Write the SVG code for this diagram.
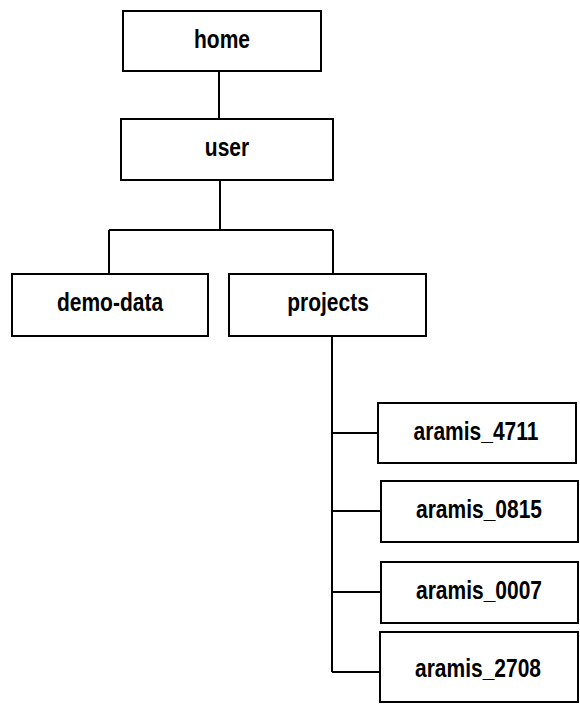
<svg xmlns="http://www.w3.org/2000/svg" width="580" height="704" viewBox="0 0 580 704">
<style>
.box{fill:#fff;stroke:#000;stroke-width:2}
.lbl{font-family:"Liberation Sans",Arial,sans-serif;font-weight:bold;font-size:25px;fill:#000;text-anchor:middle}
.con{fill:none;stroke:#000;stroke-width:2}
</style>
<rect width="580" height="704" fill="#fff"/>
<g id="connectors">
<path class="con" d="M219 71V119"/>
<path class="con" d="M220 180V230M109 230H333M109 230V274M333 230V274"/>
<path class="con" d="M332 336V672"/>
<path class="con" d="M332 433H378M332 511H381M332 592H381M332 672H380" stroke-width="1.5"/>
</g>
<g id="home"><rect class="box" x="123" y="11" width="198" height="60"/><text class="lbl" transform="translate(222 47.5) scale(0.84 1)">home</text></g>
<g id="user"><rect class="box" x="121" y="119" width="212" height="61"/><text class="lbl" transform="translate(227 155.5) scale(0.84 1)">user</text></g>
<g id="demo-data"><rect class="box" x="12" y="274" width="196" height="62"/><text class="lbl" transform="translate(110 310.5) scale(0.84 1)">demo-data</text></g>
<g id="projects"><rect class="box" x="229" y="274" width="197" height="62"/><text class="lbl" transform="translate(328 310.5) scale(0.84 1)">projects</text></g>
<g id="aramis_4711"><rect class="box" x="378" y="403" width="198" height="60"/><text class="lbl" transform="translate(476 439.5) scale(0.84 1)">aramis_4711</text></g>
<g id="aramis_0815"><rect class="box" x="381" y="481" width="197" height="61"/><text class="lbl" transform="translate(479 517.5) scale(0.84 1)">aramis_0815</text></g>
<g id="aramis_0007"><rect class="box" x="381" y="562" width="197" height="61"/><text class="lbl" transform="translate(479 598.5) scale(0.84 1)">aramis_0007</text></g>
<g id="aramis_2708"><rect class="box" x="380" y="632" width="198" height="70"/><text class="lbl" transform="translate(478 676.5) scale(0.84 1)">aramis_2708</text></g>
</svg>
